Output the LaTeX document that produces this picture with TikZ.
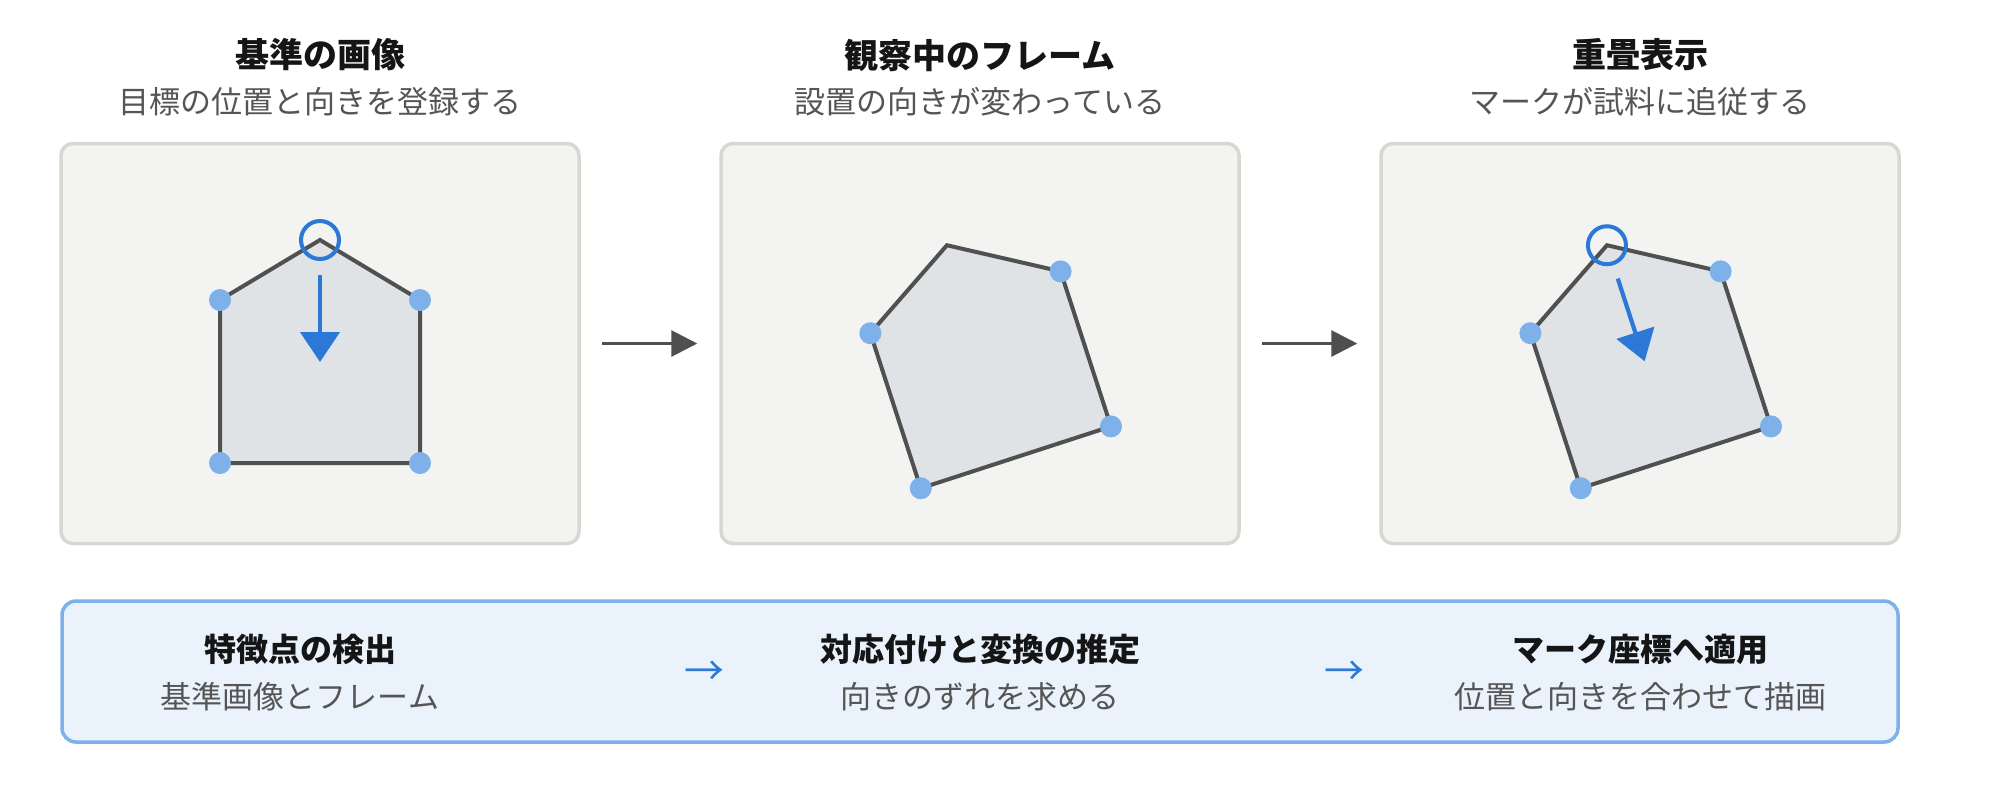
\documentclass[tikz,border=0pt]{standalone}
\usepackage{fontspec}
\setmainfont{Noto Sans CJK JP}
\usetikzlibrary{arrows.meta}
\definecolor{panelfill}{HTML}{F3F3F1}
\definecolor{panelline}{HTML}{D8D8D2}
\definecolor{shapefill}{HTML}{DFE3E6}
\definecolor{shapeline}{HTML}{505050}
\definecolor{dotblue}{HTML}{7EB0EA}
\definecolor{markblue}{HTML}{2B78D6}
\definecolor{boxfill}{HTML}{EAF2FB}
\definecolor{boxline}{HTML}{7EB0EA}
\definecolor{subgray}{HTML}{555555}
\definecolor{titleblack}{HTML}{151515}
\definecolor{flowgray}{HTML}{4F4F4F}
\begin{document}
\begin{tikzpicture}[x=0.5pt,y=-0.5pt,
  panel/.style={draw=panelline,fill=panelfill,line width=1.75pt,rounded corners=6pt,
    minimum width=259pt,minimum height=200pt,inner sep=0pt},
  flowbox/.style={draw=boxline,fill=boxfill,line width=1.75pt,rounded corners=7pt,
    minimum width=918pt,minimum height=70.5pt,inner sep=0pt},
  titletext/.style={font=\fontsize{17pt}{20pt}\selectfont\bfseries,text=titleblack,inner sep=0pt},
  subtext/.style={font=\fontsize{15.5pt}{18pt}\selectfont,text=subgray,inner sep=0pt},
  stepbold/.style={font=\fontsize{16pt}{19pt}\selectfont\bfseries,text=titleblack,inner sep=0pt},
  stepsub/.style={font=\fontsize{15.5pt}{18pt}\selectfont,text=subgray,inner sep=0pt},
  steparrow/.style={font=\fontsize{20pt}{24pt}\selectfont,text=markblue,inner sep=0pt},
  shapestroke/.style={draw=shapeline,fill=shapefill,line width=2pt,line join=miter},
  featdot/.style={circle,fill=dotblue,minimum size=11pt,inner sep=0pt},
  markring/.style={circle,draw=markblue,line width=2pt,minimum size=19pt,inner sep=0pt},
  markarrow/.style={draw=markblue,line width=2.1pt,-{Triangle[length=15pt,width=19.5pt]}},
  flowarrow/.style={draw=flowgray,line width=1.5pt,-{Triangle[length=13pt,width=13pt]}},
  specimen/.pic={
    \coordinate (-pk) at (0,-107);
    \coordinate (-rs) at (100,-47);
    \coordinate (-rb) at (100,116);
    \coordinate (-lb) at (-100,116);
    \coordinate (-ls) at (-100,-47);
    \draw[shapestroke] (-pk) -- (-rs) -- (-rb) -- (-lb) -- (-ls) -- cycle;
    \node[featdot] (-drs) at (-rs) {};
    \node[featdot] (-drb) at (-rb) {};
    \node[featdot] (-dlb) at (-lb) {};
    \node[featdot] (-dls) at (-ls) {};
  },
  marker/.pic={
    \node[markring] (-ring) at (0,-107) {};
    \coordinate (-as) at (0,-72);
    \coordinate (-at) at (0,15);
    \draw[markarrow] (-as) -- (-at);
  }
]
\useasboundingbox (0,0) rectangle (2000,800);
\fill[white] (0,0) rectangle (2000,800);

% titles
\node[titletext] (t1) at (320,55) {基準の画像};
\node[subtext]   (u1) at (320,102) {目標の位置と向きを登録する};
\node[titletext] (t2) at (980,55) {観察中のフレーム};
\node[subtext]   (u2) at (980,102) {設置の向きが変わっている};
\node[titletext] (t3) at (1640,55) {重畳表示};
\node[subtext]   (u3) at (1640,102) {マークが試料に追従する};

% panels
\node[panel] (p1) at (320,343.5) {};
\node[panel] (p2) at (980,343.5) {};
\node[panel] (p3) at (1640,343.5) {};

% shapes
\pic (s1) at (320,347) {specimen};
\pic (m1) at (320,347) {marker};
\pic[rotate=18] (s2) at (980,347) {specimen};
\pic[rotate=18] (s3) at (1640,347) {specimen};
\pic[rotate=18] (m3) at (1640,347) {marker};

% flow arrows between panels
\draw[flowarrow,shorten <=10.5pt,shorten >=11pt] (p1.east) -- (p2.west);
\draw[flowarrow,shorten <=10.5pt,shorten >=11pt] (p2.east) -- (p3.west);

% bottom box
\node[flowbox] (fb) at (980,671.5) {};
\node[stepbold] (b1) at (300,649) {特徴点の検出};
\node[stepsub]  (c1) at (300,697) {基準画像とフレーム};
\node[stepbold] (b2) at (980,649) {対応付けと変換の推定};
\node[stepsub]  (c2) at (980,697) {向きのずれを求める};
\node[stepbold] (b3) at (1640,649) {マーク座標へ適用};
\node[stepsub]  (c3) at (1640,697) {位置と向きを合わせて描画};
\node[steparrow] (a1) at (704,673) {→};
\node[steparrow] (a2) at (1344,673) {→};
\end{tikzpicture}
\end{document}
